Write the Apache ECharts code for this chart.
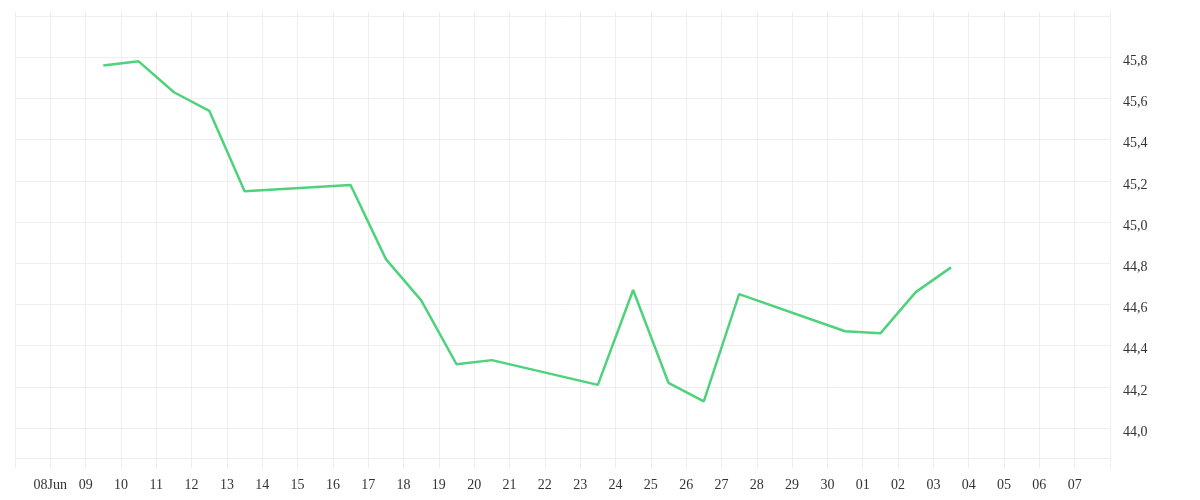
<!DOCTYPE html>
<html>
<head>
<meta charset="utf-8">
<script src="https://cdn.jsdelivr.net/npm/echarts@6/dist/echarts.min.js"></script>
<style>
  html, body { margin: 0; padding: 0; background: #ffffff; }
  #chart { width: 1200px; height: 500px; }
</style>
</head>
<body>
<div id="chart"></div>
<script>
// ---- data ----
const dates = [
  '2025-06-09', '2025-06-10', '2025-06-11', '2025-06-12', '2025-06-13',
  '2025-06-16', '2025-06-17', '2025-06-18', '2025-06-19', '2025-06-20',
  '2025-06-23', '2025-06-24', '2025-06-25', '2025-06-26', '2025-06-27',
  '2025-06-30', '2025-07-01', '2025-07-02', '2025-07-03'
];
const values = [
  45.76, 45.78, 45.63, 45.54, 45.15,
  45.18, 44.82, 44.62, 44.31, 44.33,
  44.21, 44.67, 44.22, 44.13, 44.65,
  44.47, 44.46, 44.66, 44.78
];
const xRange = ['2025-06-07', '2025-07-08'];
const yRange = [43.855, 46.0];
const monthLabel = { date: '2025-06-08', text: 'Jun' };

// ---- chart ----
const DAY = 86400000;
const toUTC = s => Date.parse(s + 'T00:00:00Z');
const seriesData = dates.map((d, i) => [toUTC(d) + DAY / 2, values[i]]);
const gridColor = '#eeeeee';
const font = { fontFamily: '"Liberation Serif", "Times New Roman", serif', fontSize: 14, color: '#333333' };
const xMin = toUTC(xRange[0]);
const xMax = toUTC(xRange[1]);

const chart = echarts.init(document.getElementById('chart'), null, { renderer: 'canvas' });
chart.setOption({
  animation: false,
  useUTC: true,
  backgroundColor: '#ffffff',
  grid: { left: 15, right: 90, top: 16, bottom: 42, containLabel: false },
  xAxis: [
    {
      type: 'time',
      position: 'bottom',
      min: xMin,
      max: xMax,
      minInterval: DAY,
      maxInterval: DAY,
      axisLine: { show: true, lineStyle: { color: gridColor, width: 1 } },
      axisTick: { show: true, length: 10, lineStyle: { color: gridColor, width: 1 } },
      splitLine: { show: true, lineStyle: { color: gridColor, width: 1 } },
      axisLabel: Object.assign({
        margin: 20,
        showMinLabel: false,
        showMaxLabel: false,
        hideOverlap: false,
        formatter: function (v) {
          if (v <= xMin || v >= xMax) return '';
          const d = new Date(v);
          const day = String(d.getUTCDate()).padStart(2, '0');
          return v === toUTC(monthLabel.date) ? day + monthLabel.text : day;
        }
      }, font)
    },
    {
      type: 'time',
      position: 'top',
      min: xMin,
      max: xMax,
      minInterval: DAY,
      maxInterval: DAY,
      axisLine: { show: false },
      axisTick: { show: true, length: 4, lineStyle: { color: gridColor, width: 1 } },
      splitLine: { show: false },
      axisLabel: { show: false }
    }
  ],
  yAxis: {
    type: 'value',
    position: 'right',
    min: yRange[0],
    max: yRange[1],
    splitNumber: 10,
    scale: true,
    axisLine: { show: true, lineStyle: { color: gridColor, width: 1 } },
    axisTick: { show: false },
    splitLine: { show: true, lineStyle: { color: gridColor, width: 1 } },
    axisLabel: Object.assign({
      margin: 13,
      verticalAlign: 'top',
      lineHeight: 8,
      showMinLabel: false,
      showMaxLabel: false,
      formatter: v => v.toFixed(1).replace('.', ',')
    }, font)
  },
  series: [{
    type: 'line',
    xAxisIndex: 0,
    data: seriesData,
    showSymbol: false,
    symbol: 'none',
    smooth: false,
    lineStyle: { color: '#4ed27c', width: 2.5 },
    itemStyle: { color: '#4ed27c' }
  }]
});
</script>
</body>
</html>
